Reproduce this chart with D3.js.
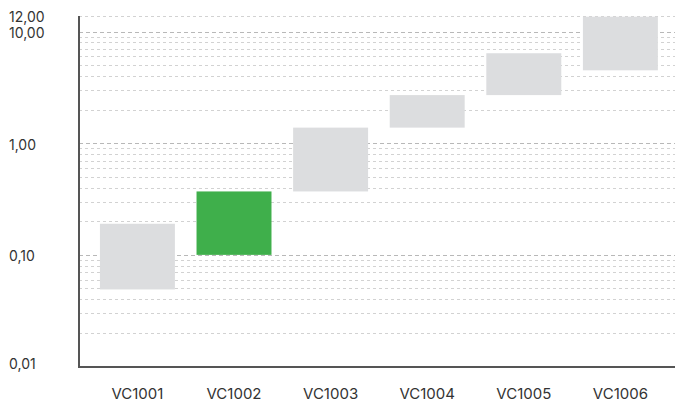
<!DOCTYPE html>
<html>
<head>
<meta charset="utf-8">
<script src="https://cdn.jsdelivr.net/npm/d3@7"></script>
<style>
  html, body { margin: 0; padding: 0; background: #fff; }
  svg { display: block; }
  text { font-family: Inter, "Noto Sans", sans-serif; fill: #333; }
</style>
</head>
<body>
<svg id="chart" width="675" height="403"></svg>
<script>
// Ranges per item: lower and upper bound on a log scale
const categories = ["VC1001", "VC1002", "VC1003", "VC1004", "VC1005", "VC1006"];
const lowValues  = [0.049, 0.10, 0.37, 1.38, 2.7, 4.5];
const highValues = [0.19, 0.37, 1.38, 2.7, 6.4, 13.6];
const highlighted = ["VC1002"];

// Axis ticks
const yMin = 0.01, yMax = 13.8;
const yTickValues = [0.01, 0.1, 1, 10, yMax];
const yTickLabels = ["0,01", "0,10", "1,00", "10,00", "12,00"];

const svg = d3.select("#chart");
const plotLeft = 79, plotRight = 675, plotTop = 16, plotBottom = 366.5;

const x = d3.scaleBand()
  .domain(categories)
  .range([plotLeft, plotRight])
  .paddingInner(0.224)
  .paddingOuter(0.197)
  .align(0.55);

const y = d3.scaleLog().domain([yMin, yMax]).range([plotBottom, plotTop]);

// Grid lines: every log tick plus the top of the scale
const gridValues = y.ticks().filter(v => v > yMin).concat([yMax]);
const isDecade = v => Math.abs(Math.log10(v) - Math.round(Math.log10(v))) < 1e-9;

svg.append("g")
  .selectAll("line")
  .data(gridValues)
  .join("line")
  .attr("x1", plotLeft)
  .attr("x2", plotRight)
  .attr("y1", d => Math.round(y(d)) + 0.5)
  .attr("y2", d => Math.round(y(d)) + 0.5)
  .attr("stroke", d => isDecade(d) ? "#b8b8b8" : "#d2d2d2")
  .attr("stroke-width", 1)
  .attr("stroke-dasharray", d => isDecade(d) ? "4,3" : "3,3");

// Range bars
svg.append("g")
  .selectAll("rect")
  .data(categories)
  .join("rect")
  .attr("x", d => x(d))
  .attr("width", x.bandwidth())
  .attr("y", (d, i) => y(highValues[i]))
  .attr("height", (d, i) => y(lowValues[i]) - y(highValues[i]))
  .attr("fill", d => highlighted.includes(d) ? "#3faf4b" : "#dcdddf");

// Y axis labels (the lowest one sits just above the baseline)
const yAxis = d3.axisLeft(y)
  .tickValues(yTickValues)
  .tickSize(0)
  .tickFormat((d, i) => yTickLabels[i]);

const gy = svg.append("g").attr("transform", `translate(${plotLeft},0)`).call(yAxis);
gy.select(".domain").remove();
gy.selectAll("text")
  .attr("x", 9 - plotLeft)
  .attr("dy", d => d === yMin ? "0.15em" : "0.42em")
  .attr("text-anchor", "start")
  .style("font-size", "14px")
  .style("font-family", "Inter, 'Noto Sans', sans-serif")
  .attr("fill", "#333");

// X axis labels
const xAxis = d3.axisBottom(x).tickSize(0);
const gx = svg.append("g").attr("transform", `translate(0,${plotBottom})`).call(xAxis);
gx.select(".domain").remove();
gx.selectAll("text")
  .attr("y", 32)
  .attr("dy", 0)
  .style("font-size", "15px")
  .style("font-family", "Inter, 'Noto Sans', sans-serif")
  .attr("fill", "#333");

// Axis lines
svg.append("path")
  .attr("d", `M${plotLeft},${plotTop}V${plotBottom + 0.5}H${plotRight}`)
  .attr("fill", "none")
  .attr("stroke", "#555")
  .attr("stroke-width", 2);
</script>
</body>
</html>
